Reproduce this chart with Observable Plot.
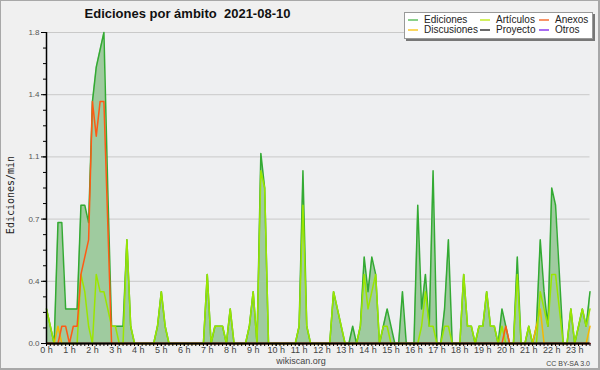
<!DOCTYPE html>
<html><head><meta charset="utf-8">
<script src="https://cdn.jsdelivr.net/npm/d3@7"></script>
<script src="https://cdn.jsdelivr.net/npm/@observablehq/plot@0.6"></script>
<style>
html,body{margin:0;padding:0;background:#f0f0f0;}
#wrap{position:relative;width:600px;height:370px;overflow:hidden;font-family:"Liberation Sans",Arial,sans-serif;background:#f0f0f0;}
#wrap > svg{position:absolute;left:0;top:0;}
.abs{position:absolute;white-space:pre;}
#border{position:absolute;left:0;top:0;width:600px;height:370px;box-sizing:border-box;border:1px solid #a8a8a8;border-right-width:2px;border-bottom-width:2px;pointer-events:none;}
#title{left:0;width:375px;top:7px;text-align:center;font-weight:bold;font-size:13px;line-height:13px;color:#111;}
#legend{left:404px;top:12px;width:189px;height:27px;box-sizing:border-box;background:#fff;border:1px solid #999;box-shadow:2px 2px 0 #777;}
.sw{position:absolute;width:10px;height:2px;}
.li{position:absolute;font-size:10px;line-height:10px;color:#222;white-space:nowrap;}
#ylab{left:11px;top:195px;transform:translate(-50%,-50%) rotate(-90deg);font-family:"DejaVu Sans Mono",monospace;font-size:10px;line-height:10px;color:#222;}
#site{left:251px;width:100px;text-align:center;top:357px;font-size:9px;line-height:9px;color:#444;}
#lic{right:10px;top:359.5px;font-size:7px;line-height:7px;color:#444;}
</style></head><body><div id="wrap"></div>
<script>
const titleText = "Ediciones por ámbito  2021-08-10";
const yLabelText = "Ediciones/min";
const siteText = "wikiscan.org";
const licenseText = "CC BY-SA 3.0";

// 10-minute intervals (minutes since 0 h)
const times = d3.range(0, 1430, 10);
const hourTicks = d3.range(0, 1440, 60).filter(t => t <= 1420);
const hourLabel = t => `${t / 60} h`;
const yTicks = [0, 0.36, 0.72, 1.08, 1.44, 1.8];

const seriesNames = ["Ediciones", "Artículos", "Anexos", "Discusiones", "Proyecto", "Otros"];
const seriesColors = ["#33aa33", "#9be600", "#ff5a14", "#f5b800", "#555555", "#9944ee"];
const legendColors = ["#8ad08a", "#d2f060", "#f79468", "#fbd760", "#6a6a6a", "#a86cf2"];

const ediciones = [
0.2,0.1,0,0.7,0.7,0.2,0.2,0.2,0.2,0.8,
0.8,0.7,1.4,1.6,1.7,1.8,0.9,0.1,0.1,0.1,
0.1,0.6,0.1,0,0,0,0,0,0,0.1,
0.3,0.1,0,0,0,0,0,0,0,0,
0,0,0.4,0,0.1,0.1,0.1,0,0.2,0,
0,0,0,0.1,0.3,0,1.1,0.9,0,0,
0,0,0,0,0,0,0.1,1.0,0.1,0,
0,0,0,0,0,0.3,0.2,0.1,0,0,
0.1,0,0.1,0.5,0.3,0.5,0.4,0,0.1,0.2,
0.1,0,0,0.3,0,0,0,0.8,0.2,0.4,
0.1,1.0,0,0,0.2,0.6,0,0,0,0.4,
0.1,0.1,0,0.1,0.1,0.3,0.1,0.1,0,0.2,
0.1,0,0,0.5,0,0,0.1,0,0.1,0.6,
0.3,0.1,0.9,0.8,0.4,0,0,0.2,0,0.1,
0.2,0.1,0.3];

const articulos = [
0.2,0.1,0,0,0,0,0,0,0,0.4,
0.3,0.1,0,0.4,0.3,0.3,0.2,0.1,0.1,0,
0,0.6,0.1,0,0,0,0,0,0,0.1,
0.3,0.1,0,0,0,0,0,0,0,0,
0,0,0.4,0,0.1,0.1,0.1,0,0.2,0,
0,0,0,0.1,0.3,0,1.0,0.9,0,0,
0,0,0,0,0,0,0.1,0.8,0.1,0,
0,0,0,0,0,0.3,0.2,0.1,0,0,
0,0,0.1,0.4,0.2,0.3,0.4,0,0.1,0.1,
0,0,0,0,0,0,0,0,0.1,0.3,
0.1,0.1,0,0,0.1,0.1,0,0,0,0.4,
0.1,0.1,0,0.1,0.1,0.3,0.1,0.1,0,0.1,
0,0,0,0.4,0,0,0.1,0,0,0.3,
0.2,0.1,0.4,0.4,0.2,0,0,0.2,0,0.1,
0.2,0.1,0.2];

const anexos = [
0,0,0,0,0.1,0.1,0,0.1,0.1,0.4,
0.5,0.6,1.4,1.2,1.4,1.4,0.7,0,0,0,
0,0,0,0,0,0,0,0,0,0,
0,0,0,0,0,0,0,0,0,0,
0,0,0,0,0,0,0,0,0,0,
0,0,0,0,0,0,0,0,0,0,
0,0,0,0,0,0,0,0,0,0,
0,0,0,0,0,0,0,0,0,0,
0,0,0,0,0,0,0,0,0,0,
0,0,0,0,0,0,0,0,0,0,
0,0,0,0,0,0,0,0,0,0,
0,0,0,0,0,0,0,0,0,0,
0.1,0,0,0,0,0,0,0,0,0,
0,0,0,0,0,0,0,0,0,0,
0,0,0];

const discusiones = [
0,0,0,0.1,0,0,0,0,0,0,
0,0,0,0,0,0,0,0,0,0,
0,0,0,0,0,0,0,0,0,0,
0,0,0,0,0,0,0,0,0,0,
0,0,0,0,0,0,0,0,0,0,
0,0,0,0,0,0,0,0,0,0,
0,0,0,0,0,0,0,0,0,0,
0,0,0,0,0,0,0,0,0,0,
0,0,0,0,0,0,0,0,0,0,
0,0,0,0,0,0,0,0,0,0,
0,0,0,0,0,0,0,0,0,0,
0,0,0,0,0,0,0,0,0,0,
0,0,0,0,0,0,0,0,0.1,0.2,
0,0,0,0,0,0,0,0,0,0,
0,0,0.1];

const proyecto = [
0,0,0,0,0,0,0,0,0,0, 0,0,0,0,0,0,0,0,0,0, 0,0,0,0,0,0,0,0,0,0,
0,0,0,0,0,0,0,0,0,0, 0,0,0,0,0,0,0,0,0,0, 0,0,0,0,0,0,0,0,0,0,
0,0,0,0,0,0,0,0,0,0, 0,0,0,0,0,0,0,0,0,0, 0,0,0,0,0,0,0,0,0,0,
0,0,0,0,0,0,0,0,0,0, 0,0,0,0,0,0,0,0,0,0, 0,0,0,0,0,0,0,0,0,0,
0,0,0,0,0,0,0,0,0,0, 0,0,0,0,0,0,0,0,0,0, 0,0,0];

const otros = [
0,0,0,0,0,0,0,0,0,0, 0,0,0,0,0,0,0,0,0,0, 0,0,0,0,0,0,0,0,0,0,
0,0,0,0,0,0,0,0,0,0, 0,0,0,0,0,0,0,0,0,0, 0,0,0,0,0,0,0,0,0,0,
0,0,0,0,0,0,0,0,0,0, 0,0,0,0,0,0,0,0,0,0, 0,0,0,0,0,0,0,0,0,0,
0,0,0,0,0,0,0,0,0,0, 0,0,0,0,0,0,0,0,0,0, 0,0,0,0,0,0,0,0,0,0,
0,0,0,0,0,0,0,0,0,0, 0,0,0,0,0,0,0,0,0,0, 0,0,0];

const seriesValues = [ediciones, articulos, anexos, discusiones, proyecto, otros];

const totalRows = times.map((t, i) => ({t, v: ediciones[i]}));
const drawOrder = ["Proyecto", "Otros", "Discusiones", "Artículos", "Anexos"];
const catRows = [];
drawOrder.forEach(name => {
  const vals = seriesValues[seriesNames.indexOf(name)];
  times.forEach((t, i) => catRows.push({t, v: vals[i], name}));
});
const minorY = d3.range(0, 1.8001, 0.09);

const plot = Plot.plot({
  width: 600, height: 370,
  marginLeft: 46, marginRight: 10.5, marginTop: 32, marginBottom: 27,
  style: {background: "transparent", fontFamily: "'Liberation Sans', Arial, sans-serif", overflow: "visible"},
  x: {domain: [0, 1420], axis: null},
  y: {domain: [0, 1.8], axis: null},
  color: {domain: seriesNames, range: seriesColors},
  marks: [
    Plot.frame({fill: "#eeeff1", stroke: null}),
    Plot.gridY(yTicks, {stroke: "#c9c9c9", strokeOpacity: 1, strokeWidth: 1}),
    Plot.areaY(totalRows, {x: "t", y: "v", fill: "#9fcb9f"}),
    Plot.lineY(totalRows, {x: "t", y: "v", stroke: seriesColors[0], strokeWidth: 1.5}),
    Plot.lineY(catRows, {x: "t", y: "v", z: "name", stroke: "name", strokeWidth: 1.5}),
    Plot.axisY(minorY, {tickSize: 3, tickFormat: () => "", label: null, stroke: "#000"}),
    Plot.axisY(yTicks, {tickSize: 5, tickPadding: 2, tickFormat: d3.format(".1f"), fontSize: 8, fill: "#555", label: null, stroke: "#000"}),
    Plot.axisX(times, {tickSize: 3, tickFormat: () => "", label: null, stroke: "#000"}),
    Plot.axisX(hourTicks, {tickSize: 3, tickPadding: 0, tickFormat: hourLabel, fontSize: 9, fill: "#444", label: null, stroke: "#000"}),
    Plot.ruleY([0], {stroke: "#000", strokeWidth: 2.2}),
    Plot.ruleX([0], {stroke: "#000", strokeWidth: 1.5})
  ]
});

const wrap = document.getElementById("wrap");
wrap.appendChild(plot);

function addDiv(id, cls, text) {
  const d = document.createElement("div");
  if (id) d.id = id;
  d.className = cls;
  if (text != null) d.textContent = text;
  wrap.appendChild(d);
  return d;
}
addDiv("title", "abs", titleText);
addDiv("ylab", "abs", yLabelText);
addDiv("site", "abs", siteText);
addDiv("lic", "abs", licenseText);

// legend: 3 columns x 2 rows, swatches as coloured bars
const legend = addDiv("legend", "abs", null);
const colX = [3, 75, 134];
const rowY = [6, 16];
const legendOrder = [["Ediciones", "Discusiones"], ["Artículos", "Proyecto"], ["Anexos", "Otros"]];
legendOrder.forEach((col, ci) => col.forEach((name, ri) => {
  const s = document.createElement("div");
  s.className = "sw";
  s.style.left = colX[ci] + "px";
  s.style.top = rowY[ri] + "px";
  s.style.backgroundColor = legendColors[seriesNames.indexOf(name)];
  legend.appendChild(s);
  const t = document.createElement("div");
  t.className = "li";
  t.style.left = (colX[ci] + 16) + "px";
  t.style.top = (rowY[ri] - 4) + "px";
  t.textContent = name;
  legend.appendChild(t);
}));
addDiv("border", "", null);
</script>
</body></html>
